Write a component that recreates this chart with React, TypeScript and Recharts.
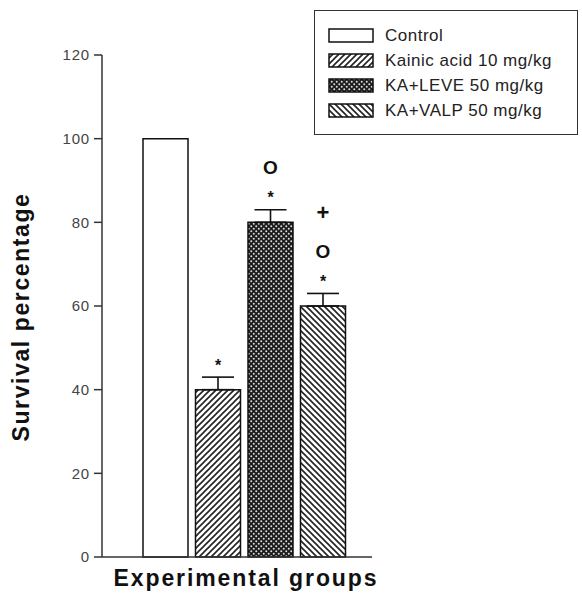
import React from "react";
import { BarChart, Bar, XAxis, YAxis, ErrorBar, LabelList, Cell } from "recharts";

const groups = [
  "Control",
  "Kainic acid 10 mg/kg",
  "KA+LEVE 50 mg/kg",
  "KA+VALP 50 mg/kg",
];
const survival = [100, 40, 80, 60];
const sem = [null, 3, 3, 3];
// significance marks drawn above each bar: * vs control, O vs kainic acid, + vs LEVE
const starMark = [false, true, true, true];
const circleMark = [false, false, true, true];
const plusMark = [false, false, false, true];
const yTicks = [0, 20, 40, 60, 80, 100, 120];

const fills = ["#ffffff", "url(#hatchKA)", "url(#dotsLEVE)", "url(#hatchVALP)"];

const data = groups.map((name, i) => ({
  name,
  value: survival[i],
  err: sem[i] == null ? null : [0, sem[i]],
  marks: { star: starMark[i], circle: circleMark[i], plus: plusMark[i] },
}));

const FONT = "Arial, 'Liberation Sans', sans-serif";

function Marks(props: any) {
  const { x, y, width, value } = props;
  if (!value) return null;
  const cx = x + width / 2;
  return (
    <g fontFamily={FONT} fontWeight="bold" fill="#111" textAnchor="middle">
      {value.star && (
        <text x={cx} y={y - 28 + 9} fontSize={16}>
          *
        </text>
      )}
      {value.circle && (
        <text x={cx} y={y - 55 + 7} fontSize={19}>
          O
        </text>
      )}
      {value.plus && (
        <text x={cx} y={y - 94 + 8} fontSize={22}>
          +
        </text>
      )}
    </g>
  );
}

function XTitle(props: any) {
  const { viewBox } = props;
  return (
    <text
      x={viewBox.x + viewBox.width / 2 + 9}
      y={viewBox.y + 29}
      textAnchor="middle"
      fontFamily={FONT}
      fontWeight="bold"
      fontSize={23}
      letterSpacing={1.9}
      fill="#111"
    >
      Experimental groups
    </text>
  );
}

function YTitle(props: any) {
  const { viewBox } = props;
  const cx = viewBox.x - 21;
  const cy = viewBox.y + viewBox.height / 2 + 11;
  return (
    <text
      x={cx}
      y={cy}
      transform={`rotate(-90 ${cx} ${cy})`}
      textAnchor="middle"
      dominantBaseline="central"
      fontFamily={FONT}
      fontWeight="bold"
      fontSize={23}
      letterSpacing={1.6}
      fill="#111"
    >
      Survival percentage
    </text>
  );
}

function Swatch({ fill }: { fill: string }) {
  return (
    <svg width={46} height={15} style={{ display: "block" }}>
      <rect x={1} y={1} width={44} height={13} fill={fill} stroke="#111" strokeWidth={1.5} />
    </svg>
  );
}

function LegendBox() {
  return (
    <div
      style={{
        position: "absolute",
        left: 314,
        top: 10,
        border: "1.5px solid #333",
        width: 264,
        height: 125,
        boxSizing: "border-box",
        paddingTop: 12,
        paddingLeft: 13,
        fontFamily: FONT,
        fontSize: 17,
        letterSpacing: 0.5,
        color: "#222",
        background: "#fff",
      }}
    >
      {groups.map((g, i) => (
        <div key={g} style={{ display: "flex", alignItems: "center", height: 25 }}>
          <Swatch fill={fills[i]} />
          <span style={{ marginLeft: 11 }}>{g}</span>
        </div>
      ))}
    </div>
  );
}

export default function App() {
  return (
    <div style={{ position: "absolute", left: 0, top: 0, width: 582, height: 595, background: "#fff" }}>
      <BarChart
        width={582}
        height={595}
        data={data}
        margin={{ top: 55, right: 210, bottom: 0, left: 42 }}
        barCategoryGap={4}
      >
        <defs>
          <pattern id="hatchKA" patternUnits="userSpaceOnUse" width={6} height={6}>
            <rect width={6} height={6} fill="#fff" />
            <path d="M-1,1 l2,-2 M0,6 l6,-6 M5,7 l2,-2" stroke="#222" strokeWidth={1.6} />
          </pattern>
          <pattern id="hatchVALP" patternUnits="userSpaceOnUse" width={6} height={6}>
            <rect width={6} height={6} fill="#fff" />
            <path d="M-1,5 l2,2 M0,0 l6,6 M5,-1 l2,2" stroke="#222" strokeWidth={1.6} />
          </pattern>
          <pattern id="dotsLEVE" patternUnits="userSpaceOnUse" width={5} height={5}>
            <rect width={5} height={5} fill="#1c1c1c" />
            <circle cx={1.25} cy={1.25} r={1} fill="#ddd" />
            <circle cx={3.75} cy={3.75} r={1} fill="#ddd" />
          </pattern>
        </defs>
        <XAxis
          dataKey="name"
          tick={false}
          tickLine={false}
          height={38}
          axisLine={{ stroke: "#333", strokeWidth: 1.5 }}
          padding={{ left: 37, right: 23 }}
          label={<XTitle />}
        />
        <YAxis
          domain={[0, 120]}
          ticks={yTicks}
          width={60}
          tickSize={8}
          tickMargin={4}
          axisLine={{ stroke: "#333", strokeWidth: 1.5 }}
          tickLine={{ stroke: "#333", strokeWidth: 1.5 }}
          tick={{ fontFamily: FONT, fontSize: 15, fill: "#444", letterSpacing: 0.8 }}
          label={<YTitle />}
        />
        <Bar dataKey="value" stroke="#111" strokeWidth={1.5} isAnimationActive={false}>
          {data.map((d, i) => (
            <Cell key={d.name} fill={fills[i]} />
          ))}
          <ErrorBar dataKey="err" width={16} stroke="#111" strokeWidth={1.6} isAnimationActive={false} />
          <LabelList dataKey="marks" content={<Marks />} />
        </Bar>
      </BarChart>
      <LegendBox />
    </div>
  );
}
